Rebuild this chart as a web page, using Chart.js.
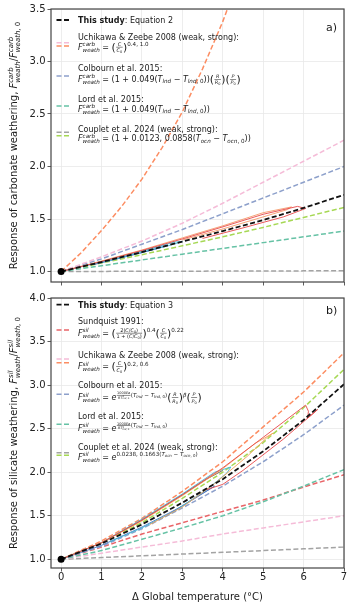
<!DOCTYPE html>
<html>
<head>
<meta charset="utf-8">
<script src="https://cdn.jsdelivr.net/npm/chart.js@4"></script>
<style>
html, body { margin: 0; padding: 0; background: #fff; overflow: hidden; }
#wrap { position: relative; width: 348px; height: 603px; }
canvas { position: absolute; left: 0; }
#ca { top: 0; }
#cb { top: 290px; }
</style>
</head>
<body>
<div id="wrap">
  <canvas id="ca" width="348" height="290"></canvas>
  <canvas id="cb" width="348" height="313"></canvas>
</div>
<script>
// axes
const temps = [0, 1, 2, 3, 4, 5, 6, 7];
const xTicks = [0, 1, 2, 3, 4, 5, 6, 7];
const yTicksA = [1.0, 1.5, 2.0, 2.5, 3.0, 3.5];
const yTicksB = [1.0, 1.5, 2.0, 2.5, 3.0, 3.5, 4.0];

// a) carbonate weathering
const carbThisStudy = [1.00, 1.09, 1.185, 1.285, 1.385, 1.49, 1.605, 1.73];
const carbUZweak = [1.00, 1.14, 1.29, 1.46, 1.65, 1.85, 2.05, 2.25];
const carbUZstrongT = [0, 0.5, 1, 1.5, 2, 2.5, 3, 3.5, 4, 4.5];
const carbUZstrong = [1.00, 1.18, 1.39, 1.62, 1.88, 2.18, 2.52, 2.93, 3.38, 3.9];
const carbColbourn = [1.00, 1.12, 1.26, 1.40, 1.55, 1.70, 1.85, 2.00];
const carbLord = [1.00, 1.055, 1.11, 1.165, 1.22, 1.275, 1.33, 1.385];
const carbCoupletWeak = [1.00, 1.001, 1.002, 1.003, 1.004, 1.005, 1.006, 1.007];
const carbCoupletStrong = [1.00, 1.08, 1.16, 1.245, 1.33, 1.42, 1.515, 1.61];
// model runs (warming then cooling)
const carbRunRedT = [0, 1, 2, 3, 4, 5, 5.85, 6.05, 5.5, 4.5, 3.5];
const carbRunRedV = [1, 1.095, 1.2, 1.31, 1.425, 1.545, 1.62, 1.6, 1.52, 1.415, 1.315];
const carbRunOrangeT = [0, 1, 2, 3, 4, 5, 5.7, 5.6, 5, 4, 3];
const carbRunOrangeV = [1, 1.1, 1.205, 1.32, 1.435, 1.56, 1.615, 1.59, 1.52, 1.405, 1.3];
const carbRunCyanT = [0, 1, 2, 2.8, 3.0, 2.6, 1.8, 1];
const carbRunCyanV = [1, 1.095, 1.195, 1.28, 1.285, 1.24, 1.165, 1.085];
const carbRunBlueT = [0, 1, 2, 2.6, 2.4, 1.6, 0.8];
const carbRunBlueV = [1, 1.09, 1.18, 1.245, 1.22, 1.14, 1.065];

// b) silicate weathering
const silThisStudy = [1.00, 1.18, 1.40, 1.65, 1.92, 2.24, 2.60, 3.01];
const silSundquist = [1.00, 1.14, 1.29, 1.42, 1.55, 1.68, 1.83, 1.97];
const silUZweak = [1.00, 1.07, 1.14, 1.21, 1.29, 1.36, 1.43, 1.50];
const silUZstrong = [1.00, 1.21, 1.47, 1.78, 2.12, 2.52, 2.92, 3.37];
const silColbourn = [1.00, 1.15, 1.35, 1.59, 1.84, 2.12, 2.43, 2.77];
const silLord = [1.00, 1.10, 1.23, 1.36, 1.50, 1.66, 1.84, 2.03];
const silCoupletWeak = [1.00, 1.02, 1.04, 1.06, 1.08, 1.10, 1.12, 1.14];
const silCoupletStrong = [1.00, 1.19, 1.42, 1.70, 2.00, 2.34, 2.74, 3.18];
const silRunRedT = [0, 1, 2, 3, 4, 5, 6.05, 6.12, 6.1, 6.35, 5.5, 4.5, 4.0, 3.6];
const silRunRedV = [1, 1.19, 1.45, 1.74, 2.05, 2.40, 2.77, 2.70, 2.62, 2.72, 2.38, 2.02, 1.86, 1.80];
const silRunOrangeT = [0, 1, 2, 3, 4, 4.8, 5.25, 5.1, 4.6, 3.8, 3.0, 2.2];
const silRunOrangeV = [1, 1.19, 1.44, 1.73, 2.04, 2.33, 2.45, 2.40, 2.18, 1.87, 1.60, 1.40];
const silRunCyanT = [0, 1, 2, 3, 3.8, 4.2, 4.1, 3.6, 2.8, 2.0, 1.2];
const silRunCyanV = [1, 1.19, 1.46, 1.75, 2.0, 2.06, 1.99, 1.80, 1.55, 1.36, 1.2];
const silRunGrayT = [0, 1, 2, 3, 3.6, 4.0];
const silRunGrayV = [1, 1.19, 1.45, 1.74, 1.92, 2.02];
const silRunBlueT = [0, 1, 2, 3, 3.8, 3.4, 2.6];
const silRunBlueV = [1, 1.16, 1.37, 1.61, 1.84, 1.73, 1.50];

const startT = [0];
const startV = [1];

// colours
const BLACK = '#111111';
const PINK = '#f5bcd8';
const ORANGE = '#fc8d62';
const BLUE = '#8da0cb';
const TEAL = '#66c2a5';
const LIME = '#a6d854';
const GRAY = '#a3a3a3';
const RED = '#e96468';
const FONT = '"DejaVu Sans", sans-serif';
const DASH = [5, 2.5];

function pts(xs, ys) {
    return xs.map((x, i) => ({ x: x, y: ys[i] }));
}

function dashed(xs, ys, color, width) {
    return { data: pts(xs, ys), borderColor: color, borderWidth: width || 1.5, borderDash: DASH, pointRadius: 0, fill: false };
}

function solid(xs, ys, color) {
    return { data: pts(xs, ys), borderColor: color, borderWidth: 0.9, pointRadius: 0, fill: false };
}

function startDot() {
    return { data: pts(startT, startV), showLine: false, pointRadius: 3.5, pointBackgroundColor: '#000', pointBorderWidth: 0 };
}

// --- simple math-like text on canvas ---
function txt(ctx, s, x, y, size, style, draw) {
    ctx.font = style + ' ' + size + 'px ' + FONT;
    if (draw) ctx.fillText(s, x, y);
    return ctx.measureText(s).width;
}

function rich(ctx, items, x, y, size, draw) {
    let cx = x;
    for (const it of items) {
        if (typeof it === 'string') cx += txt(ctx, it, cx, y, size, '', draw);
        else if ('i' in it) cx += txt(ctx, it.i, cx, y, size, 'italic', draw);
        else if ('b' in it) cx += txt(ctx, it.b, cx, y, size, 'bold', draw);
        else if ('sup' in it) cx += rich(ctx, it.sup, cx, y - size * 0.4, size * 0.7, draw);
        else if ('sub' in it) cx += rich(ctx, it.sub, cx, y + size * 0.2, size * 0.7, draw);
        else if ('ss' in it) {
            const a = rich(ctx, it.ss[0], cx, y - size * 0.42, size * 0.7, draw);
            const b = rich(ctx, it.ss[1], cx, y + size * 0.25, size * 0.7, draw);
            cx += Math.max(a, b);
        } else if ('fr' in it) {
            const s = size * 0.62;
            const wn = rich(ctx, it.fr[0], 0, 0, s, false);
            const wd = rich(ctx, it.fr[1], 0, 0, s, false);
            const w = Math.max(wn, wd) + size * 0.2;
            if (draw) {
                rich(ctx, it.fr[0], cx + (w - wn) / 2, y - size * 0.45, s, true);
                rich(ctx, it.fr[1], cx + (w - wd) / 2, y + size * 0.32, s, true);
                ctx.fillRect(cx + size * 0.05, y - size * 0.33, w - size * 0.1, Math.max(0.5, size * 0.06));
            }
            cx += w;
        } else if ('p' in it) {
            cx += txt(ctx, it.p, cx, y + size * 0.15, size * 1.35, '', draw);
        }
    }
    return cx - x;
}

// formula pieces
const Fcarb = [{ i: 'F' }, { ss: [[{ i: 'carb' }], [{ i: 'weath' }]] }, ' = '];
const Fsil = [{ i: 'F' }, { ss: [[{ i: 'sil' }], [{ i: 'weath' }]] }, ' = '];
const ratio = (v) => [{ p: '(' }, { fr: [[{ i: v }], [{ i: v }, { sub: ['0'] }]] }, { p: ')' }];
const dTlnd = [{ i: 'T' }, { sub: [{ i: 'lnd' }] }, ' − ', { i: 'T' }, { sub: [{ i: 'lnd' }, ', 0'] }];
const dTocn = [{ i: 'T' }, { sub: [{ i: 'ocn' }] }, ' − ', { i: 'T' }, { sub: [{ i: 'ocn' }, ', 0'] }];
const arrh = { fr: [['1000', { i: 'Ea' }], [{ i: 'RT' }, { ss: [['2'], [{ i: 'lnd' }, ', 0']] }]] };

const legendA = [
    { h: [[BLACK, 20]], rows: [[23, [{ b: 'This study' }, ': Equation 2']]] },
    { h: [[PINK, 42.7], [ORANGE, 46]], rows: [[39.5, ['Uchikawa & Zeebe 2008 (weak, strong):']],
        [49.5, [...Fcarb, ...ratio('C'), { sup: ['0.4, 1.0'] }]]] },
    { h: [[BLUE, 76]], rows: [[71, ['Colbourn et al. 2015:']],
        [81.7, [...Fcarb, '(1 + 0.049(', ...dTlnd, '))', ...ratio('R'), ...ratio('P')]]] },
    { h: [[TEAL, 106]], rows: [[101.5, ['Lord et al. 2015:']],
        [111.7, [...Fcarb, '(1 + 0.049(', ...dTlnd, '))']]] },
    { h: [[GRAY, 132.3], [LIME, 135.7]], rows: [[131.5, ['Couplet et al. 2024 (weak, strong):']],
        [141, [...Fcarb, '(1 + 0.0123, 0.0858(', ...dTocn, '))']]] }
];

const legendB = [
    { h: [[BLACK, 14.7]], rows: [[17.5, [{ b: 'This study' }, ': Equation 3']]] },
    { h: [[RED, 40]], rows: [[34, ['Sundquist 1991:']],
        [45.5, [...Fsil, { p: '(' }, { fr: [['2(', { i: 'C' }, '/', { i: 'C' }, { sub: ['0'] }, ')'], ['1 + (', { i: 'C' }, '/', { i: 'C' }, { sub: ['0'] }, ')']] }, { p: ')' }, { sup: ['0.4'] }, ...ratio('C'), { sup: ['0.22'] }]]] },
    { h: [[PINK, 69], [ORANGE, 72.7]], rows: [[67.5, ['Uchikawa & Zeebe 2008 (weak, strong):']],
        [79, [...Fsil, ...ratio('C'), { sup: ['0.2, 0.6'] }]]] },
    { h: [[BLUE, 104.3]], rows: [[97.5, ['Colbourn et al. 2015:']],
        [110, [...Fsil, { i: 'e' }, { sup: [arrh, '(', ...dTlnd, ')'] }, ...ratio('R'), { sup: [{ i: 'β' }] }, ...ratio('P')]]] },
    { h: [[TEAL, 134.3]], rows: [[128.5, ['Lord et al. 2015:']],
        [140.5, [...Fsil, { i: 'e' }, { sup: [arrh, '(', ...dTlnd, ')'] }]]] },
    { h: [[GRAY, 162.7], [LIME, 165.3]], rows: [[160, ['Couplet et al. 2024 (weak, strong):']],
        [169.5, [...Fsil, { i: 'e' }, { sup: ['0.0238, 0.1663(', ...dTocn, ')'] }]]] }
];

const yTitleA = ['Response of carbonate weathering, ', { i: 'F' }, { ss: [[{ i: 'carb' }], [{ i: 'weath' }]] }, '/', { i: 'F' }, { ss: [[{ i: 'carb' }], [{ i: 'weath' }, ', 0']] }];
const yTitleB = ['Response of silicate weathering, ', { i: 'F' }, { ss: [[{ i: 'sil' }], [{ i: 'weath' }]] }, '/', { i: 'F' }, { ss: [[{ i: 'sil' }], [{ i: 'weath' }, ', 0']] }];

// frame, legend, titles, panel letter
function makeDecor(spec) {
    return {
        id: 'decor',
        afterDraw(chart) {
            const ctx = chart.ctx;
            const a = chart.chartArea;
            ctx.save();
            ctx.strokeStyle = '#444';
            ctx.lineWidth = 1.2;
            ctx.strokeRect(a.left, a.top, a.right - a.left, a.bottom - a.top);

            ctx.fillStyle = '#1a1a1a';
            ctx.textBaseline = 'alphabetic';
            // legend
            spec.legend.forEach(entry => {
                entry.h.forEach(([color, y]) => {
                    ctx.strokeStyle = color;
                    ctx.lineWidth = color === BLACK ? 1.8 : 1.5;
                    ctx.setLineDash(DASH);
                    ctx.beginPath();
                    ctx.moveTo(56.5, y);
                    ctx.lineTo(69, y);
                    ctx.stroke();
                });
                ctx.setLineDash([]);
                entry.rows.forEach(([y, items]) => rich(ctx, items, 78, y, 8, true));
            });

            // panel letter
            txt(ctx, spec.letter, 326, spec.letterY, 11, '', true);

            // y title, rotated
            ctx.save();
            ctx.translate(17, (a.top + a.bottom) / 2);
            ctx.rotate(-Math.PI / 2);
            const w = rich(ctx, spec.yTitle, 0, 0, 10, false);
            rich(ctx, spec.yTitle, -w / 2, 0, 10, true);
            ctx.restore();

            // x title
            if (spec.xTitle) {
                ctx.font = '10px ' + FONT;
                const tw = ctx.measureText(spec.xTitle).width;
                ctx.fillText(spec.xTitle, (a.left + a.right) / 2 - tw / 2, spec.xTitleY);
            }
            ctx.restore();
        }
    };
}

function makeChart(id, datasets, yMax, yTicks, opts) {
    return new Chart(document.getElementById(id), {
        type: 'line',
        data: { datasets: datasets },
        options: {
            responsive: false,
            animation: false,
            layout: { padding: { top: opts.padTop, right: 1, left: 0, bottom: 0 } },
            plugins: { legend: { display: false }, tooltip: { enabled: false } },
            scales: {
                x: {
                    type: 'linear', min: -0.25, max: 7,
                    afterBuildTicks: s => { s.ticks = xTicks.map(v => ({ value: v })); },
                    afterFit: s => { s.height = opts.xHeight; },
                    grid: { color: '#e9e9e9', lineWidth: 0.8, tickLength: 3.5, tickColor: '#333' },
                    border: { display: false },
                    ticks: { display: opts.showX, color: '#222', font: { family: FONT, size: 10 }, padding: 0, maxRotation: 0 }
                },
                y: {
                    type: 'linear', min: 0.9, max: yMax,
                    afterBuildTicks: s => { s.ticks = yTicks.map(v => ({ value: v })); },
                    afterFit: s => { s.width = 51; },
                    grid: { color: '#e9e9e9', lineWidth: 0.8, tickLength: 3.5, tickColor: '#333' },
                    border: { display: false },
                    ticks: { color: '#222', font: { family: FONT, size: 10 }, padding: 2, callback: v => v.toFixed(1) }
                }
            }
        },
        plugins: [makeDecor(opts.decor)]
    });
}

makeChart('ca', [
    startDot(),
    dashed(temps, carbThisStudy, BLACK, 1.8),
    solid(carbRunRedT, carbRunRedV, '#e8474a'),
    solid(carbRunOrangeT, carbRunOrangeV, '#f59a6a'),
    solid(carbRunCyanT, carbRunCyanV, '#3fb8d6'),
    solid(carbRunBlueT, carbRunBlueV, '#4a78c2'),
    dashed(carbUZstrongT, carbUZstrong, ORANGE),
    dashed(temps, carbUZweak, PINK),
    dashed(temps, carbColbourn, BLUE),
    dashed(temps, carbLord, TEAL),
    dashed(temps, carbCoupletStrong, LIME),
    dashed(temps, carbCoupletWeak, GRAY)
], 3.5, yTicksA, {
    padTop: 9, xHeight: 5, showX: false,
    decor: { legend: legendA, letter: 'a)', letterY: 31, yTitle: yTitleA }
});

makeChart('cb', [
    startDot(),
    dashed(temps, silThisStudy, BLACK, 1.8),
    solid(silRunRedT, silRunRedV, '#e8474a'),
    solid(silRunOrangeT, silRunOrangeV, '#f5a45a'),
    solid(silRunCyanT, silRunCyanV, '#3fb8d6'),
    solid(silRunGrayT, silRunGrayV, '#6b5a55'),
    solid(silRunBlueT, silRunBlueV, '#4a78c2'),
    dashed(temps, silUZstrong, ORANGE),
    dashed(temps, silCoupletStrong, LIME),
    dashed(temps, silColbourn, BLUE),
    dashed(temps, silLord, TEAL),
    dashed(temps, silSundquist, RED),
    dashed(temps, silUZweak, PINK),
    dashed(temps, silCoupletWeak, GRAY)
], 4.0, yTicksB, {
    padTop: 3, xHeight: 35, showX: true,
    decor: { legend: legendB, letter: 'b)', letterY: 24, yTitle: yTitleB, xTitle: 'Δ Global temperature (°C)', xTitleY: 309.5 }
});
</script>
</body>
</html>
